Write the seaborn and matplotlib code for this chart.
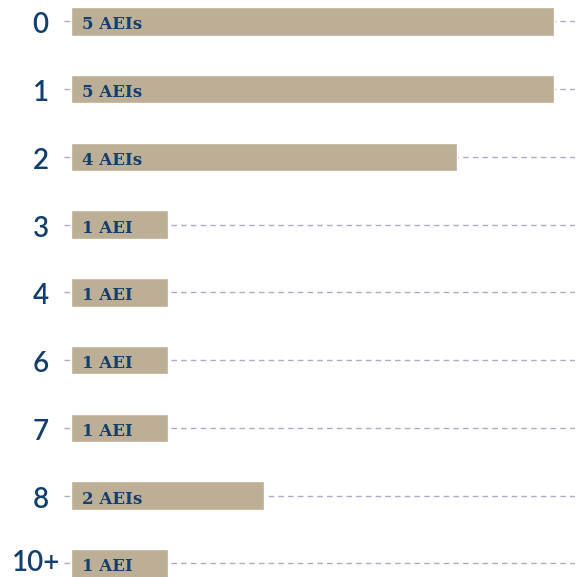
import matplotlib
matplotlib.use("Agg")
import matplotlib.pyplot as plt
import matplotlib.transforms as mtransforms
import seaborn as sns
import pandas as pd

categories = ["0", "1", "2", "3", "4", "6", "7", "8", "10+"]
values = [5, 5, 4, 1, 1, 1, 1, 2, 1]
labels = ["5 AEIs", "5 AEIs", "4 AEIs", "1 AEI", "1 AEI", "1 AEI", "1 AEI", "2 AEIs", "1 AEI"]

df = pd.DataFrame({"cat": categories, "val": values})

sns.set_theme(style="white")
fig = plt.figure(figsize=(5.81, 5.77), dpi=100)
ax = fig.add_axes([64 / 581, 0, (575 - 64) / 581, 1])

bar_color = "#bdae96"
text_color = "#123f6e"

sns.barplot(data=df, x="val", y="cat", order=categories, color=bar_color,
            saturation=1, width=0.42, ax=ax, zorder=3)

ax.set_xlim(-0.075, 5.22)
ax.set_ylim(8.2, -0.317)

ax.grid(False)
for i in range(len(categories)):
    ax.axhline(i, color="#a9accb", linestyle=(0, (4, 3)), linewidth=1.0, zorder=1)

for i, (v, lab) in enumerate(zip(values, labels)):
    ax.text(0.11, i + 0.05, lab, ha="left", va="center", fontsize=12,
            fontweight="bold", family="DejaVu Serif", color=text_color, zorder=4)

ax.set_xlabel("")
ax.set_ylabel("")
ax.set_xticks([])
ax.tick_params(axis="y", length=0, pad=11)
ticklabels = ax.get_yticklabels()
for k, t in enumerate(ticklabels):
    t.set_fontsize(20)
    t.set_color(text_color)
    t.set_family("Lato")
    t.set_fontweight("semibold")
    t.set_va("center")
    if k == len(ticklabels) - 1:
        off = mtransforms.ScaledTranslation(12 / 100, 0, fig.dpi_scale_trans)
    else:
        off = mtransforms.ScaledTranslation(0, -4 / 100, fig.dpi_scale_trans)
    t.set_transform(t.get_transform() + off)
for s in ax.spines.values():
    s.set_visible(False)

fig.savefig("out.png", dpi=100)
